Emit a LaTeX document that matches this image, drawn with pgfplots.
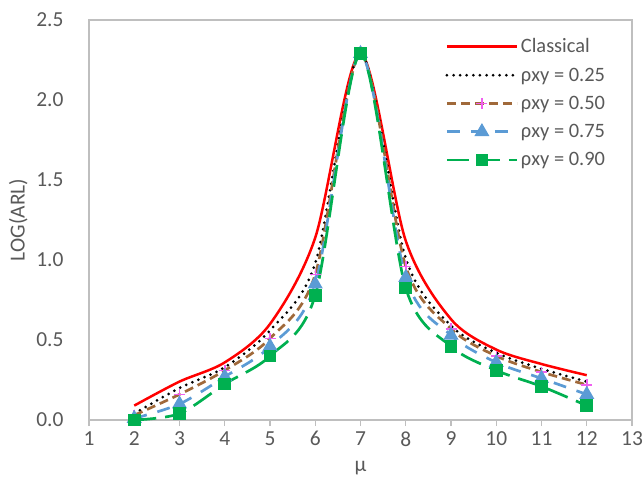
\documentclass[border=0pt]{standalone}
\usepackage{fontspec}
\setmainfont{Carlito}
\usepackage{pgfplots}
\pgfplotsset{compat=1.18}
\definecolor{txtgray}{HTML}{595959}
\definecolor{axgray}{HTML}{BFBFBF}
\definecolor{cred}{HTML}{FF0000}
\definecolor{cbrown}{HTML}{A0693A}
\definecolor{cpink}{HTML}{F060F0}
\definecolor{cblue}{HTML}{5B9BD5}
\definecolor{cgreen}{HTML}{00B050}
\begin{document}
\begin{tikzpicture}
\begin{axis}[
  scale only axis,
  width=543bp, height=400bp,
  at={(0,0)}, anchor=south west,
  xmin=1, xmax=13, ymin=0, ymax=2.5,
  xtick={1,2,...,13},
  ytick={0,0.5,1,1.5,2,2.5},
  yticklabel style={/pgf/number format/fixed,/pgf/number format/precision=1,/pgf/number format/fixed zerofill},
  /pgf/number format/assume math mode=true,
  tick label style={font=\fontsize{21.5}{25}\selectfont, text=txtgray},
  axis line style={axgray, line width=1.2bp},
  xtick pos=bottom, tick align=outside,
  major tick length=6bp,
  xtick style={axgray, line width=1.2bp},
  ytick style={draw=none},
  yticklabel style={xshift=-16bp},
  xticklabel style={yshift=-2bp},
  xlabel={μ}, ylabel={LOG(ARL)},
  label style={font=\fontsize{21.5}{25}\selectfont, text=txtgray},
  xlabel style={yshift=-8bp},
  ylabel style={yshift=2bp},
  legend style={at={(0.656,0.96)}, anchor=north west, draw=none, fill=none,
    font=\fontsize{20.5}{24}\selectfont, text=txtgray, row sep=8.5bp,
    inner sep=0pt, nodes={inner sep=2.5bp}},
  legend cell align=left,
  legend image code/.code={\draw[mark repeat=2,mark phase=2,#1] plot coordinates {(0bp,0bp) (35bp,0bp) (70bp,0bp)};},
]
\addplot[cred, line width=2.5bp, smooth, no markers] coordinates {
(2,0.09) (3,0.24) (4,0.36) (5,0.60) (6,1.14) (7,2.29) (8,1.12) (9,0.63) (10,0.44) (11,0.35) (12,0.28)};
\addlegendentry{Classical}
\addplot[black, line width=3bp, line cap=round, dash pattern=on 0bp off 6.6bp, smooth, no markers] coordinates {
(2,0.04) (3,0.20) (4,0.33) (5,0.56) (6,0.98) (7,2.29) (8,1.01) (9,0.59) (10,0.42) (11,0.32) (12,0.24)};
\addlegendentry{ρxy = 0.25}
\addplot[cbrown, line width=2.7bp, dash pattern=on 9bp off 5bp, smooth, mark=+, mark size=5.5bp,
  mark options={cpink, solid, line width=1.5bp}] coordinates {
(2,0.03) (3,0.16) (4,0.31) (5,0.51) (6,0.91) (7,2.29) (8,0.96) (9,0.57) (10,0.40) (11,0.30) (12,0.22)};
\addlegendentry{ρxy = 0.50}
\addplot[cblue, line width=2.7bp, dash pattern=on 13bp off 11bp, smooth, mark=triangle*, mark size=6bp,
  mark options={cblue, fill=cblue, solid}] coordinates {
(2,0.01) (3,0.10) (4,0.27) (5,0.46) (6,0.85) (7,2.29) (8,0.89) (9,0.53) (10,0.36) (11,0.26) (12,0.16)};
\addlegendentry{ρxy = 0.75}
\addplot[cgreen, line width=2.7bp, dash pattern=on 22bp off 9bp, smooth, mark=square*, mark size=5bp,
  mark options={cgreen, fill=cgreen, solid}] coordinates {
(2,0.00) (3,0.04) (4,0.225) (5,0.40) (6,0.78) (7,2.29) (8,0.825) (9,0.46) (10,0.31) (11,0.21) (12,0.09)};
\addlegendentry{ρxy = 0.90}
\end{axis}
\pgfresetboundingbox
\path[use as bounding box] (-89bp,-60bp) rectangle (555bp,420bp);
\end{tikzpicture}
\end{document}
